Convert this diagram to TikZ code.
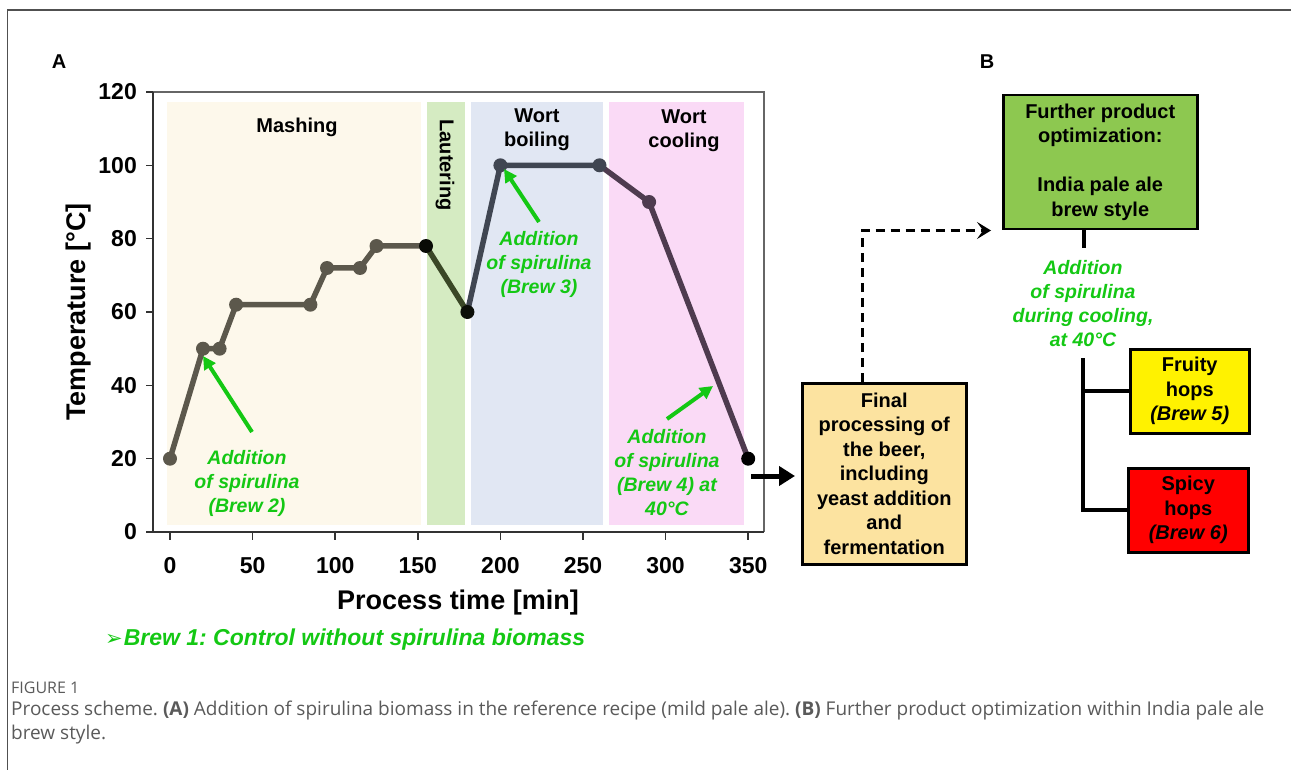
\documentclass[tikz,border=0pt]{standalone}
\usepackage{fontspec}
\setmainfont{Liberation Sans}
\newfontfamily\capfont{Open Sans}
\newfontfamily\symfnt{DejaVu Sans}
\usetikzlibrary{arrows.meta}
\definecolor{grn}{RGB}{20,200,20}
\definecolor{framec}{RGB}{80,80,80}
\definecolor{axc}{RGB}{50,50,50}
\definecolor{bandmash}{RGB}{253,248,235}
\definecolor{bandlaut}{RGB}{213,235,194}
\definecolor{bandboil}{RGB}{225,231,243}
\definecolor{bandcool}{RGB}{250,218,246}
\definecolor{finalc}{RGB}{252,227,160}
\definecolor{greenbox}{RGB}{141,200,80}
\definecolor{cA}{RGB}{92,88,76}
\definecolor{cB}{RGB}{58,71,38}
\definecolor{cC}{RGB}{64,70,82}
\definecolor{cD}{RGB}{78,59,79}
\definecolor{capc}{RGB}{90,90,90}
\frenchspacing
\begin{document}
\begin{tikzpicture}[x=1pt,y=-1pt,
  lbl/.style={font=\bfseries\fontsize{20}{24}\selectfont, align=center, inner sep=0pt},
  grntxt/.style={text=grn, font=\bfseries\itshape\fontsize{19.5}{24}\selectfont, align=center, inner sep=0pt},
  boxn/.style={draw=black, line width=2.5pt, align=center, anchor=north west, inner sep=0pt, font=\bfseries\fontsize{20}{24.5}\selectfont},
  garrow/.style={draw=grn, line width=4pt, -{Triangle[length=13pt,width=13pt]}},
  tickl/.style={draw=axc, line width=1.5pt},
  ticklab/.style={font=\bfseries\fontsize{23}{26}\selectfont, inner sep=0pt},
  axtitle/.style={font=\bfseries\fontsize{27}{30}\selectfont, inner sep=0pt},
  seg/.style={line width=5.5pt, line join=round, line cap=round},
  conn/.style={draw=black, line width=4pt},
  dashconn/.style={draw=black, line width=3pt, dash pattern=on 9pt off 6pt, -{Stealth[length=14pt,width=17pt,inset=6pt]}},
  bigarrow/.style={draw=black, line width=5pt, -{Triangle[length=16pt,width=19pt]}}
]
\useasboundingbox (0,0) rectangle (1291,770);
% outer frame
\draw[framec, line width=1.6pt] (7.5,770) -- (7.5,10) -- (1291,10);

% panel labels
\node[font=\bfseries\fontsize{20}{22}\selectfont] (labA) at (59,62) {A};
\node[font=\bfseries\fontsize{20}{22}\selectfont] (labB) at (987,62) {B};

% bands
\fill[bandmash] (167,102) rectangle (421,525);
\fill[bandlaut] (427,102) rectangle (465,525);
\fill[bandboil] (471,102) rectangle (603,525);
\fill[bandcool] (609,102) rectangle (744,525);

\node[lbl] (mash) at (297,127) {Mashing};
\node[lbl, rotate=-90] (laut) at (445,165) {Lautering};
\node[lbl] (boil) at (537,130) {Wort\\boiling};
\node[lbl] (cool) at (684,131) {Wort\\cooling};

% plot frame and axes
\draw[gray!80!black, line width=1.2pt] (153,92) -- (764,92) -- (764,532);
\draw[tickl] (153,92) -- (153,532) -- (764,532);
\foreach \v/\yy in {0/532,20/458.7,40/385.3,60/312,80/238.7,100/165.3,120/92}{
  \draw[tickl] (146,\yy) -- (153,\yy);
  \node[ticklab, anchor=east] at (137,\yy) {\v};
}
\foreach \v/\xx in {0/170,50/252.6,100/335.2,150/417.8,200/500.4,250/583,300/665.6,350/748.2}{
  \draw[tickl] (\xx,532) -- (\xx,540);
  \node[ticklab] at (\xx,566) {\v};
}
\node[axtitle, rotate=90] (ytitle) at (79,312) {Temperature [°C]};
\node[axtitle] (xtitle) at (458,603) {Process time [min]};

% data points
\coordinate (p0) at (170,458.7);
\coordinate (p1) at (203,348.7);
\coordinate (p2) at (219.6,348.7);
\coordinate (p3) at (236.1,304.7);
\coordinate (p4) at (310.4,304.7);
\coordinate (p5) at (327,268);
\coordinate (p6) at (360,268);
\coordinate (p7) at (376.5,246);
\coordinate (p8) at (426,246);
\coordinate (p9) at (467.4,312);
\coordinate (p10) at (500.4,165.3);
\coordinate (p11) at (599.5,165.3);
\coordinate (p12) at (649.1,202);
\coordinate (p13) at (748.2,458.7);

\draw[seg, cA] (p0) -- (p1) -- (p2) -- (p3) -- (p4) -- (p5) -- (p6) -- (p7) -- (p8);
\draw[seg, cB] (p8) -- (p9);
\draw[seg, cC] (p9) -- (p10) -- (p11);
\draw[seg, cD] (p11) -- (p12) -- (p13);
\foreach \p in {p0,p1,p2,p3,p4,p5,p6,p7}{\fill[cA] (\p) circle[radius=7pt];}
\fill[black!85!cB] (p8) circle[radius=7pt];
\fill[black!80!cB] (p9) circle[radius=7pt];
\fill[cC] (p10) circle[radius=7pt];
\fill[cC] (p11) circle[radius=7pt];
\fill[cD] (p12) circle[radius=7pt];
\fill[black] (p13) circle[radius=7pt];

% green annotations
\coordinate (g2t) at (252,432);
\coordinate (g2h) at (203,356);
\draw[garrow] (g2t) -- (g2h);
\node[grntxt] (brew2) at (247,483) {Addition\\of spirulina\\(Brew 2)};
\coordinate (g3t) at (539,222);
\coordinate (g3h) at (504,169);
\draw[garrow] (g3t) -- (g3h);
\node[grntxt] (brew3) at (539,264) {Addition\\of spirulina\\(Brew 3)};
\coordinate (g4t) at (667,419);
\coordinate (g4h) at (713,386);
\draw[garrow] (g4t) -- (g4h);
\node[grntxt] (brew4) at (667,473) {Addition\\of spirulina\\(Brew 4) at\\40°C};

% right side boxes
\node[boxn, fill=finalc, minimum width=164pt, minimum height=181pt] (final) at (801,382)
  {Final\\processing of\\the beer,\\including\\yeast addition\\and\\fermentation};
\node[boxn, fill=greenbox, minimum width=194pt, minimum height=134pt] (gbox) at (1002,94)
  {Further product\\optimization:\\\strut\\India pale ale\\brew style};
\node[boxn, fill=yellow, minimum width=119pt, minimum height=84pt] (fruity) at (1129,348)
  {Fruity\\hops\\\textit{(Brew 5)}};
\node[boxn, fill=red, minimum width=120pt, minimum height=84pt] (spicy) at (1127,467)
  {Spicy\\hops\\\textit{(Brew 6)}};

% connectors
\coordinate (a1) at (751,476);
\draw[bigarrow, shorten >=6pt] (a1) -- (a1 -| final.west);
\coordinate (dcol) at (862,0);
\draw[dashconn, shorten >=11pt] (final.north -| dcol) |- (gbox.south west);
\coordinate (vx) at (1084,0);
\coordinate (vstub) at (1084,248);
\draw[conn] (gbox.south -| vx) -- (vstub);
\node[grntxt] (brewB) at (1083,303.5) {Addition\\of spirulina\\during cooling,\\at 40°C};
\coordinate (vtop) at (1083,358);
\draw[conn] (vtop) |- (spicy.west);
\draw[conn] (fruity.west -| vtop) -- (fruity.west);

% bottom note
\node[anchor=west, inner sep=0pt, text=grn, font=\bfseries\itshape\fontsize{23}{26}\selectfont] (brew1) at (105,640)
  {{\symfnt\upshape\fontsize{21}{24}\selectfont ➢}\hspace{1pt}Brew 1: Control without spirulina biomass};

% caption
\node[anchor=west, inner sep=0pt, text=capc, font=\capfont\fontsize{16}{18}\selectfont] (figl) at (11,688) {FIGURE 1};
\node[anchor=west, inner sep=0pt, text=capc, font=\capfont\fontsize{19}{22}\selectfont] (cap1) at (11,711)
  {Process scheme. \textbf{(A)} Addition of spirulina biomass in the reference recipe (mild pale ale). \textbf{(B)} Further product optimization within India pale ale};
\node[anchor=west, inner sep=0pt, text=capc, font=\capfont\fontsize{19}{22}\selectfont] (cap2) at (11,735) {brew style.};
\end{tikzpicture}
\end{document}
